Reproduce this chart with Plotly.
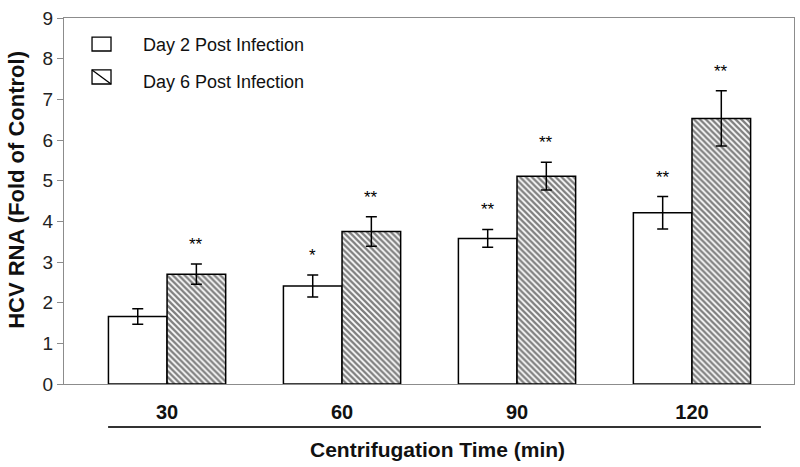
import plotly.graph_objects as go

# centrifugation time groups
categories = ["30", "60", "90", "120"]

# HCV RNA, fold of control
day2 = [1.66, 2.41, 3.58, 4.21]
day2_err = [0.19, 0.27, 0.22, 0.40]
day6 = [2.70, 3.75, 5.11, 6.53]
day6_err = [0.25, 0.36, 0.34, 0.68]

# significance marks
day2_sig = ["", "*", "**", "**"]
day6_sig = ["**", "**", "**", "**"]

FONT = "Liberation Sans, Arial, sans-serif"
bar_w = 0.335

fig = go.Figure()
fig.add_trace(go.Bar(
    x=categories, y=day2, name="Day 2 Post Infection",
    marker=dict(color="white", line=dict(color="black", width=1.5)),
    error_y=dict(type="data", array=day2_err, color="black", thickness=1.5, width=5.5),
))
fig.add_trace(go.Bar(
    x=categories, y=day6, name="Day 6 Post Infection",
    marker=dict(color="white", line=dict(color="black", width=1.5),
                pattern=dict(shape="\\", fgcolor="black", bgcolor="white", size=4.2, solidity=0.55)),
    error_y=dict(type="data", array=day6_err, color="black", thickness=1.5, width=5.5),
))

# stars above error bars
for i in range(len(categories)):
    for off, vals, errs, sig in [(-bar_w / 2, day2, day2_err, day2_sig), (bar_w / 2, day6, day6_err, day6_sig)]:
        if sig[i]:
            fig.add_annotation(x=i + off, y=vals[i] + errs[i], text=sig[i], showarrow=False,
                               yanchor="bottom", yshift=8, font=dict(family=FONT, size=17, color="black"))

# hand-made legend
fig.add_shape(type="rect", xref="paper", yref="paper", x0=0.0384, x1=0.0644, y0=0.9098, y1=0.948,
              line=dict(color="black", width=1.3), fillcolor="white")
fig.add_shape(type="rect", xref="paper", yref="paper", x0=0.0384, x1=0.0644, y0=0.8197, y1=0.858,
              line=dict(color="black", width=1.3), fillcolor="white")
fig.add_shape(type="line", xref="paper", yref="paper", x0=0.0384, x1=0.0644, y0=0.858, y1=0.8197,
              line=dict(color="black", width=1.3))
fig.add_annotation(xref="paper", yref="paper", x=0.106, y=0.926, text="Day 2 Post Infection",
                   showarrow=False, xanchor="left", yanchor="middle", font=dict(family=FONT, size=18, color="#111"))
fig.add_annotation(xref="paper", yref="paper", x=0.106, y=0.825, text="Day 6 Post Infection",
                   showarrow=False, xanchor="left", yanchor="middle", font=dict(family=FONT, size=18, color="#111"))

# line under category labels
fig.add_shape(type="line", xref="x", yref="paper", x0=-0.337, x1=3.394, y0=-0.1175, y1=-0.1175,
              line=dict(color="#333", width=2))
fig.add_annotation(xref="paper", yref="paper", x=0.511, y=-0.18, text="<b>Centrifugation Time (min)</b>",
                   showarrow=False, yanchor="middle", font=dict(family=FONT, size=21, color="#111"))
fig.add_annotation(xref="paper", yref="paper", x=-0.066, y=0.53, text="<b>HCV RNA (Fold of Control)</b>",
                   showarrow=False, textangle=-90, xanchor="center", yanchor="middle",
                   font=dict(family=FONT, size=22, color="#111"))

fig.update_layout(
    width=800, height=467,
    margin=dict(l=64, r=6, t=18, b=83),
    paper_bgcolor="white", plot_bgcolor="white",
    barmode="group", bargap=0.33, bargroupgap=0,
    showlegend=False,
    font=dict(family=FONT, size=18, color="#222"),
    xaxis=dict(range=[-0.589, 3.583], showline=True, mirror=True, linecolor="#8c8c8c", linewidth=1,
               ticks="", tickvals=categories, ticktext=["<b>" + c + "</b>" for c in categories],
               tickfont=dict(size=20, color="#111"), ticklabelstandoff=10, showgrid=False),
    yaxis=dict(range=[0, 9], dtick=1, showline=True, mirror=True, linecolor="#8c8c8c", linewidth=1,
               ticks="outside", ticklen=6, tickcolor="#8c8c8c", showgrid=False, zeroline=False,
               tickfont=dict(size=19, color="#222")),
)

# page body has a default margin, drop it so the figure sits at the window corner
fig.write_html("out.html", config={"displayModeBar": False},
               post_script="document.body.style.margin='0';")
